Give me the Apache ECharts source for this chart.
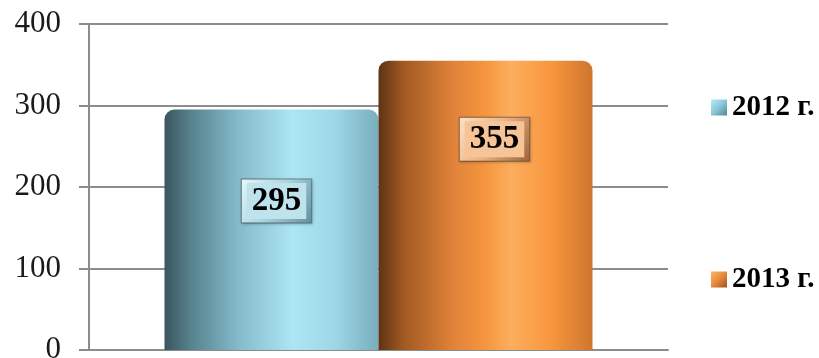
<!DOCTYPE html>
<html>
<head>
<meta charset="utf-8">
<script src="https://cdn.jsdelivr.net/npm/echarts@6/dist/echarts.min.js"></script>
<style>
  html, body { margin: 0; padding: 0; background: #ffffff; }
  #chart { width: 819px; height: 358px; }
</style>
</head>
<body>
<div id="chart"></div>
<script>
// Data
const categories = [''];
const seriesNames = ['2012 г.', '2013 г.'];
const values2012 = [295];
const values2013 = [355];
const yTicks = [0, 100, 200, 300, 400];

const serif = '"Liberation Serif", "Times New Roman", serif';
const grey = '#8c8c8c';

function hGrad(stops) {
  return new echarts.graphic.LinearGradient(0, 0, 1, 0,
    stops.map(s => ({ offset: s[0], color: s[1] })));
}
function dGrad(a, b, c) {
  return new echarts.graphic.LinearGradient(0, 0, 1, 1, [
    { offset: 0, color: a }, { offset: 0.5, color: b }, { offset: 1, color: c }
  ]);
}

// Cylinder-like shading across each bar
const blueFill = hGrad([
  [0, '#3a545d'], [0.12, '#56818d'], [0.35, '#85bccb'],
  [0.6, '#ace5f3'], [0.8, '#9dd6e6'], [1, '#78aebd']
]);
const orangeFill = hGrad([
  [0, '#5e3414'], [0.12, '#a35a22'], [0.35, '#e0833a'],
  [0.5, '#f6953f'], [0.62, '#fdae5e'], [0.8, '#f8973f'], [1, '#cf762d']
]);

function valueLabel(dist, dx, bevel, face) {
  return {
    show: true,
    position: 'insideTop',
    distance: dist,
    offset: [dx, 0],
    formatter: '{v|{c}}',
    backgroundColor: bevel,
    borderColor: 'rgba(60,60,60,0.55)',
    borderWidth: 1,
    padding: 5,
    shadowColor: 'rgba(0,0,0,0.25)',
    shadowBlur: 3,
    shadowOffsetX: 1,
    shadowOffsetY: 1,
    rich: {
      v: {
        fontFamily: serif,
        fontWeight: 'bold',
        fontSize: 33,
        lineHeight: 33,
        color: '#000',
        backgroundColor: face,
        padding: [2, 5, 1, 5]
      }
    }
  };
}

const chart = echarts.init(document.getElementById('chart'), null, { renderer: 'canvas' });

chart.setOption({
  animation: false,
  backgroundColor: '#ffffff',
  grid: {
    left: 89, right: 151, top: 24, bottom: 8,
    containLabel: false,
    outerBoundsMode: 'none'
  },
  legend: {
    orient: 'vertical',
    left: 706,
    top: 88,
    itemGap: 143,
    itemWidth: 16,
    itemHeight: 16,
    itemStyle: { borderWidth: 0 },
    icon: 'rect',
    textStyle: {
      fontFamily: serif,
      fontWeight: 'bold',
      fontSize: 29,
      lineHeight: 28,
      color: '#000'
    },
    data: [
      { name: seriesNames[0], itemStyle: { color: dGrad('#b8ecf7', '#88c6d6', '#4f8797') } },
      { name: seriesNames[1], itemStyle: { color: dGrad('#fdb56a', '#e6893c', '#9a531f') } }
    ]
  },
  xAxis: {
    type: 'category',
    data: categories,
    axisLine: { show: true, lineStyle: { color: grey, width: 2 } },
    axisTick: { show: false },
    axisLabel: { show: false },
    splitLine: { show: false }
  },
  yAxis: {
    type: 'value',
    min: yTicks[0],
    max: yTicks[yTicks.length - 1],
    interval: 100,
    axisLine: { show: true, lineStyle: { color: grey, width: 2 } },
    axisTick: { show: true, inside: false, length: 10, lineStyle: { color: grey, width: 2 } },
    axisLabel: {
      margin: 28,
      fontFamily: serif,
      fontSize: 31,
      color: '#1a1a1a'
    },
    splitLine: { show: true, lineStyle: { color: grey, width: 2 } }
  },
  series: [
    {
      name: seriesNames[0],
      type: 'bar',
      data: values2012,
      barWidth: 214,
      barGap: '0%',
      itemStyle: { color: blueFill, borderRadius: [10, 10, 0, 0] },
      label: valueLabel(70, 5, dGrad('#e6f8fc', '#a9d3de', '#5f8f9c'), '#bfe3ec')
    },
    {
      name: seriesNames[1],
      type: 'bar',
      data: values2013,
      barWidth: 214,
      barGap: '0%',
      itemStyle: { color: orangeFill, borderRadius: [10, 10, 0, 0] },
      label: valueLabel(57, 9, dGrad('#fde3c8', '#e9b184', '#9c6238'), '#f6c497')
    }
  ]
});
</script>
</body>
</html>
